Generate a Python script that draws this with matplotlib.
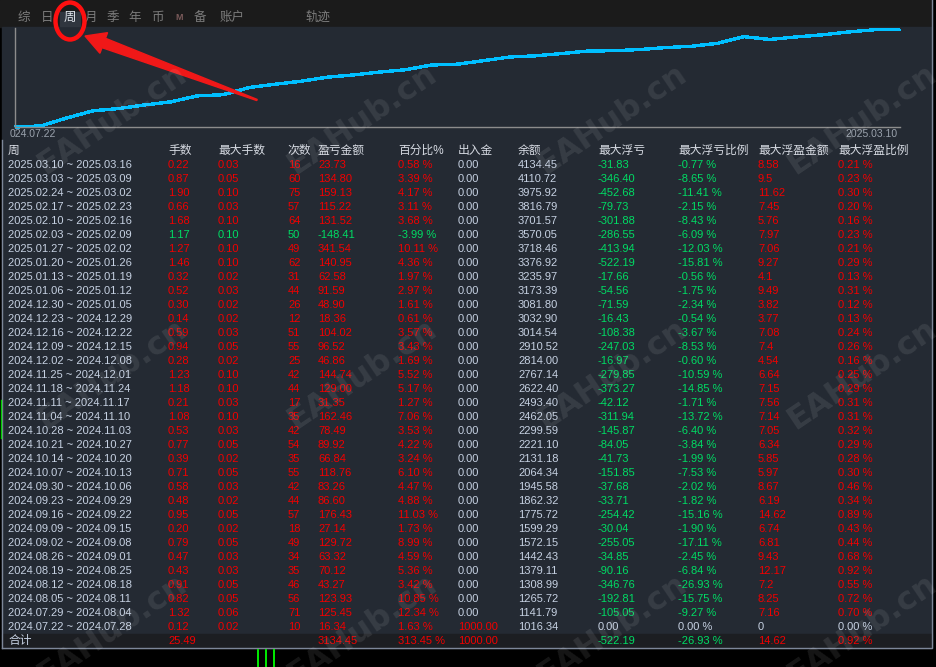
import numpy as np
import matplotlib.pyplot as plt
from matplotlib.patches import Rectangle, Ellipse, Polygon

plt.rcParams['font.family'] = ['Liberation Sans', 'Noto Sans CJK SC', 'DejaVu Sans']

# weekly report, newest first (as listed in the table)
week_start = ['2025.03.10', '2025.03.03', '2025.02.24', '2025.02.17', '2025.02.10', '2025.02.03',
              '2025.01.27', '2025.01.20', '2025.01.13', '2025.01.06', '2024.12.30', '2024.12.23',
              '2024.12.16', '2024.12.09', '2024.12.02', '2024.11.25', '2024.11.18', '2024.11.11',
              '2024.11.04', '2024.10.28', '2024.10.21', '2024.10.14', '2024.10.07', '2024.09.30',
              '2024.09.23', '2024.09.16', '2024.09.09', '2024.09.02', '2024.08.26', '2024.08.19',
              '2024.08.12', '2024.08.05', '2024.07.29', '2024.07.22']
week_end = ['2025.03.16', '2025.03.09', '2025.03.02', '2025.02.23', '2025.02.16', '2025.02.09',
            '2025.02.02', '2025.01.26', '2025.01.19', '2025.01.12', '2025.01.05', '2024.12.29',
            '2024.12.22', '2024.12.15', '2024.12.08', '2024.12.01', '2024.11.24', '2024.11.17',
            '2024.11.10', '2024.11.03', '2024.10.27', '2024.10.20', '2024.10.13', '2024.10.06',
            '2024.09.29', '2024.09.22', '2024.09.15', '2024.09.08', '2024.09.01', '2024.08.25',
            '2024.08.18', '2024.08.11', '2024.08.04', '2024.07.28']
lots = [0.22, 0.87, 1.90, 0.66, 1.68, 1.17, 1.27, 1.46, 0.32, 0.52, 0.30, 0.14, 0.59, 0.94, 0.28,
        1.23, 1.18, 0.21, 1.08, 0.53, 0.77, 0.39, 0.71, 0.58, 0.48, 0.95, 0.20, 0.79, 0.47, 0.43,
        0.91, 0.82, 1.32, 0.12]
max_lots = [0.03, 0.05, 0.10, 0.03, 0.10, 0.10, 0.10, 0.10, 0.02, 0.03, 0.02, 0.02, 0.03, 0.05,
            0.02, 0.10, 0.10, 0.03, 0.10, 0.03, 0.05, 0.02, 0.05, 0.03, 0.02, 0.05, 0.02, 0.05,
            0.03, 0.03, 0.05, 0.05, 0.06, 0.02]
trades = [16, 60, 75, 57, 64, 50, 49, 62, 31, 44, 26, 12, 51, 55, 25, 42, 44, 17, 35, 42, 54, 35,
          55, 42, 44, 57, 18, 49, 34, 35, 46, 56, 71, 10]
profit = [23.73, 134.80, 159.13, 115.22, 131.52, -148.41, 341.54, 140.95, 62.58, 91.59, 48.90,
          18.36, 104.02, 96.52, 46.86, 144.74, 129.00, 31.35, 162.46, 78.49, 89.92, 66.84, 118.76,
          83.26, 86.60, 176.43, 27.14, 129.72, 63.32, 70.12, 43.27, 123.93, 125.45, 16.34]
profit_pct = [0.58, 3.39, 4.17, 3.11, 3.68, -3.99, 10.11, 4.36, 1.97, 2.97, 1.61, 0.61, 3.57, 3.43,
              1.69, 5.52, 5.17, 1.27, 7.06, 3.53, 4.22, 3.24, 6.10, 4.47, 4.88, 11.03, 1.73, 8.99,
              4.59, 5.36, 3.42, 10.85, 12.34, 1.63]
deposit = [0] * 33 + [1000.00]
balance = [4134.45, 4110.72, 3975.92, 3816.79, 3701.57, 3570.05, 3718.46, 3376.92, 3235.97,
           3173.39, 3081.80, 3032.90, 3014.54, 2910.52, 2814.00, 2767.14, 2622.40, 2493.40,
           2462.05, 2299.59, 2221.10, 2131.18, 2064.34, 1945.58, 1862.32, 1775.72, 1599.29,
           1572.15, 1442.43, 1379.11, 1308.99, 1265.72, 1141.79, 1016.34]
max_dd = [-31.83, -346.40, -452.68, -79.73, -301.88, -286.55, -413.94, -522.19, -17.66, -54.56,
          -71.59, -16.43, -108.38, -247.03, -16.97, -279.85, -373.27, -42.12, -311.94, -145.87,
          -84.05, -41.73, -151.85, -37.68, -33.71, -254.42, -30.04, -255.05, -34.85, -90.16,
          -346.76, -192.81, -105.05, 0.00]
max_dd_pct = [-0.77, -8.65, -11.41, -2.15, -8.43, -6.09, -12.03, -15.81, -0.56, -1.75, -2.34,
              -0.54, -3.67, -8.53, -0.60, -10.59, -14.85, -1.71, -13.72, -6.40, -3.84, -1.99,
              -7.53, -2.02, -1.82, -15.16, -1.90, -17.11, -2.45, -6.84, -26.93, -15.75, -9.27, 0.00]
max_fp = [8.58, 9.5, 11.62, 7.45, 5.76, 7.97, 7.06, 9.27, 4.1, 9.49, 3.82, 3.77, 7.08, 7.4, 4.54,
          6.64, 7.15, 7.56, 7.14, 7.05, 6.34, 5.85, 5.97, 8.67, 6.19, 14.62, 6.74, 6.81, 9.43,
          12.17, 7.2, 8.25, 7.16, 0]
max_fp_pct = [0.21, 0.23, 0.30, 0.20, 0.16, 0.23, 0.21, 0.29, 0.13, 0.31, 0.12, 0.13, 0.24, 0.26,
              0.16, 0.25, 0.29, 0.31, 0.31, 0.32, 0.29, 0.28, 0.30, 0.46, 0.34, 0.89, 0.43, 0.44,
              0.68, 0.92, 0.55, 0.72, 0.70, 0.00]

total_lots = 25.49
total_profit = 3134.45
total_pct = 313.45
total_deposit = 1000.00
total_dd = -522.19
total_dd_pct = -26.93
total_fp = 14.62
total_fp_pct = 0.92

tabs = ['综', '日', '周', '月', '季', '年', '币', 'M', '备', '账户', '轨迹']
headers = ['周', '手数', '最大手数', '次数', '盈亏金额', '百分比%', '出入金', '余额',
           '最大浮亏', '最大浮亏比例', '最大浮盈金额', '最大浮盈比例']

RED = '#f20000'
GREEN = '#00dc64'
TXT = '#c6d1e2'
HDR = '#d6dae2'
PANEL = '#242a33'

fig = plt.figure(figsize=(9.36, 6.67), dpi=100, facecolor='black')

# pixel-coordinate base layer
bg = fig.add_axes([0, 0, 1, 1])
bg.set_xlim(0, 936)
bg.set_ylim(667, 0)
bg.axis('off')
bg.add_patch(Rectangle((0, 0), 932, 27, color='#1b1b1b'))
bg.add_patch(Rectangle((2, 27), 930, 621, color=PANEL))
bg.add_patch(Rectangle((2, 634), 930, 14, color='#1c1e22'))
bg.plot([2, 932, 932], [648, 648, 0], color='#7d8799', lw=1)
bg.plot([2, 2], [140, 648], color='#7d8799', lw=1)
bg.plot([1, 1], [400, 438], color='#00cc00', lw=1)

# tab strip
tab_x = [24, 47, 70, 91, 113, 135, 157, 179, 200, 232, 318]
bg.add_patch(Rectangle((60, 12), 20, 14, color='#30363f'))
for t, x in zip(tabs, tab_x):
    if t == 'M':
        bg.text(x, 18, t, color='#7a5a5a', fontsize=6.5, fontweight='bold', ha='center', va='center')
    else:
        bg.text(x, 18, t, color='#e0e4ea' if t == '周' else '#7c7c7c', fontsize=9,
                ha='center', va='center')

# equity curve: balance before first week, then each week's closing balance
bal = np.array(balance[::-1])
start_bal = balance[-1] - profit[-1]
curve = np.concatenate([[start_bal], bal])
ax = fig.add_axes([15 / 936, (667 - 127) / 667, (900 - 15) / 936, (127 - 28) / 667])
ax.patch.set_visible(False)
ax.plot(np.arange(len(curve)), curve, color='#00bfff', lw=1.7, antialiased=False,
        solid_capstyle='butt', clip_on=False)
ax.set_yscale('log')
ax.set_xlim(0, len(curve) - 1)
ax.set_ylim(curve.min(), curve.max() * 1.02)
ax.set_xticks([])
ax.set_yticks([])
ax.minorticks_off()
for s in ['top', 'right']:
    ax.spines[s].set_visible(False)
for s in ['left', 'bottom']:
    ax.spines[s].set_color('#8c8c8c')
    ax.spines[s].set_linewidth(1)
bg.text(10, 134, '024.07.22', color='#9aa2ad', fontsize=7.5, va='center')
bg.text(898, 134, '2025.03.10', color='#9aa2ad', fontsize=7.5, va='center', ha='right')

# table
col_x = [8, 168, 218, 288, 318, 398, 458, 518, 598, 678, 758, 838]
for h, x in zip(headers, col_x):
    bg.text(x, 151, h, color=HDR, fontsize=8.5, va='center')


def sign_col(v):
    return RED if v > 0 else (GREEN if v < 0 else TXT)


for i in range(len(week_start)):
    y = 165 + 14 * i
    c = sign_col(profit[i])
    cells = [
        (week_start[i] + ' ~ ' + week_end[i], TXT),
        (f'{lots[i]:.2f}', c),
        (f'{max_lots[i]:.2f}', c),
        (str(trades[i]), c),
        (f'{profit[i]:.2f}', c),
        (f'{profit_pct[i]:.2f} %', c),
        (f'{deposit[i]:.2f}', sign_col(deposit[i])),
        (f'{balance[i]:.2f}', TXT),
        (f'{max_dd[i]:.2f}', sign_col(max_dd[i])),
        (f'{max_dd_pct[i]:.2f} %', sign_col(max_dd_pct[i])),
        (str(max_fp[i]), sign_col(max_fp[i])),
        (f'{max_fp_pct[i]:.2f} %', sign_col(max_fp_pct[i])),
    ]
    for (txt, col), x in zip(cells, col_x):
        bg.text(x, y, txt, color=col, fontsize=8, va='center')

yt = 641
totals = [('合计', TXT, 0), (f'{total_lots:.2f}', RED, 1), (f'{total_profit:.2f}', RED, 4),
          (f'{total_pct:.2f} %', RED, 5), (f'{total_deposit:.2f}', RED, 6),
          (f'{total_dd:.2f}', GREEN, 8), (f'{total_dd_pct:.2f} %', GREEN, 9),
          (f'{total_fp:.2f}', RED, 10), (f'{total_fp_pct:.2f} %', RED, 11)]
for txt, col, k in totals:
    bg.text(col_x[k], yt, txt, color=col, fontsize=8.5 if k == 0 else 8, va='center')

for x in [258, 266, 274]:
    bg.plot([x, x], [650, 667], color='#00ff00', lw=1.3)

# overlay: annotation + watermark
ov = fig.add_axes([0, 0, 1, 1])
ov.set_xlim(0, 936)
ov.set_ylim(667, 0)
ov.axis('off')
ov.patch.set_visible(False)
ov.add_patch(Ellipse((70, 21), 29, 37, fill=False, ec='#ff1010', lw=3.2))
tip = np.array([85.0, 36.0])
tail = np.array([257.0, 100.0])
u = (tip - tail) / np.linalg.norm(tip - tail)
n = np.array([-u[1], u[0]])
base = tip - 20 * u
pts = [tip, base + 11 * n, base + 5 * n, tail + 0.6 * n, tail - 0.6 * n, base - 5 * n, base - 11 * n]
ov.add_patch(Polygon(pts, closed=True, color='#f01818'))

for y0 in [175, 430, 685]:
    for x0 in [45, 295, 545, 795]:
        ov.text(x0, y0, 'EAHub.cn', rotation=34, rotation_mode='anchor', ha='left', va='baseline',
                fontsize=23, fontweight='bold', family='DejaVu Sans', color='white', alpha=0.09)

fig.savefig('out.png', dpi=100, facecolor='black')
